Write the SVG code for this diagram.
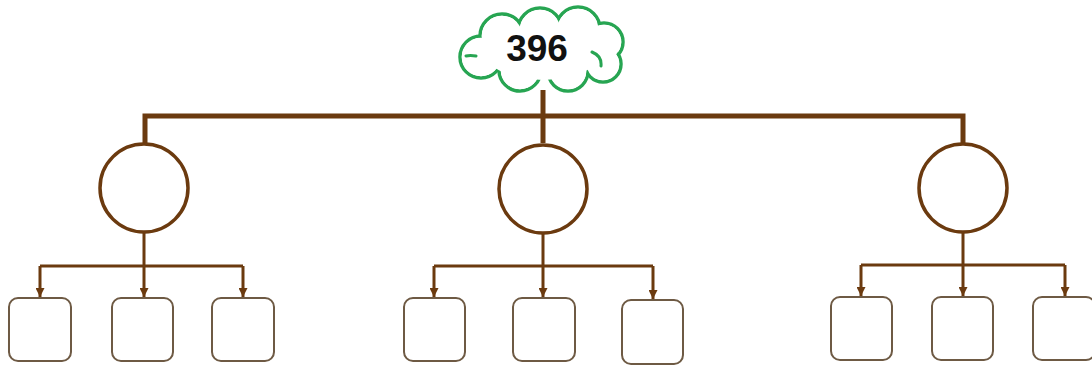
<svg xmlns="http://www.w3.org/2000/svg" width="1092" height="365" viewBox="0 0 1092 365">
<style>
.thick{stroke:#6b3a0f;stroke-width:5;fill:none}
.thin{stroke:#6b3a0f;stroke-width:3;fill:none}
.circ{stroke:#6b3a0f;stroke-width:3.5;fill:#fff}
.box{stroke:#6e5a44;stroke-width:2;fill:#fff}
.cl{stroke:#27a552;stroke-width:3.5;fill:#fff}
.clf{fill:#fff;stroke:none}
.lbl{font-family:"Liberation Sans",Arial,sans-serif;font-weight:bold;font-size:37px;fill:#111}
</style>
<defs>
<marker id="ah" viewBox="0 0 10 10" refX="10" refY="5" markerWidth="3" markerHeight="3" orient="auto" markerUnits="strokeWidth">
<path d="M0,0 L10,5 L0,10 z" fill="#6b3a0f"/>
</marker>
</defs>
<rect width="1092" height="365" fill="#fff"/>
<g id="connectors">
<path class="thick" d="M543,90 V116 M145,143 V116 H963 V143 M543,116 V143"/>
<path class="thin" d="M144,233 V266 M543,234 V266 M963,233 V265"/>
<path class="thin" d="M40,266 H243 M434,266 H653 M861,265 H1065"/>
<path class="thin" marker-end="url(#ah)" d="M40,266 V297"/>
<path class="thin" marker-end="url(#ah)" d="M144,266 V297"/>
<path class="thin" marker-end="url(#ah)" d="M243,266 V297"/>
<path class="thin" marker-end="url(#ah)" d="M434,266 V297"/>
<path class="thin" marker-end="url(#ah)" d="M543,266 V297"/>
<path class="thin" marker-end="url(#ah)" d="M653,266 V299"/>
<path class="thin" marker-end="url(#ah)" d="M861,265 V296"/>
<path class="thin" marker-end="url(#ah)" d="M963,265 V296"/>
<path class="thin" marker-end="url(#ah)" d="M1065,265 V296"/>
</g>
<g id="root">
<circle class="cl" cx="481" cy="57" r="21"/>
<circle class="cl" cx="502" cy="36" r="22"/>
<circle class="cl" cx="540" cy="30" r="22"/>
<circle class="cl" cx="578" cy="29" r="22"/>
<circle class="cl" cx="604" cy="42" r="19"/>
<circle class="cl" cx="603" cy="64" r="18"/>
<circle class="cl" cx="568" cy="71" r="20"/>
<circle class="cl" cx="520" cy="70" r="21"/>
<circle class="clf" cx="481" cy="57" r="19.3"/>
<circle class="clf" cx="502" cy="36" r="20.3"/>
<circle class="clf" cx="540" cy="30" r="20.3"/>
<circle class="clf" cx="578" cy="29" r="20.3"/>
<circle class="clf" cx="604" cy="42" r="17.3"/>
<circle class="clf" cx="603" cy="64" r="16.3"/>
<circle class="clf" cx="568" cy="71" r="18.3"/>
<circle class="clf" cx="520" cy="70" r="19.3"/>
<ellipse class="clf" cx="543" cy="52" rx="58" ry="28"/>
<path d="M592,52 Q602,56 601,66 M466,56 Q470,55 476,56" stroke="#27a552" stroke-width="3" fill="none" stroke-linecap="round"/>
<text class="lbl" x="537" y="61" text-anchor="middle">396</text>
</g>
<g id="c1"><circle class="circ" cx="144" cy="188" r="44"/></g>
<g id="c2"><circle class="circ" cx="543" cy="189" r="44"/></g>
<g id="c3"><circle class="circ" cx="963" cy="188" r="44"/></g>
<g id="b1"><rect class="box" x="9" y="298" width="62" height="63" rx="9"/></g>
<g id="b2"><rect class="box" x="112" y="298" width="61" height="63" rx="9"/></g>
<g id="b3"><rect class="box" x="212" y="298" width="62" height="63" rx="9"/></g>
<g id="b4"><rect class="box" x="404" y="298" width="61" height="63" rx="9"/></g>
<g id="b5"><rect class="box" x="513" y="298" width="62" height="63" rx="9"/></g>
<g id="b6"><rect class="box" x="622" y="300" width="61" height="64" rx="9"/></g>
<g id="b7"><rect class="box" x="831" y="297" width="61" height="63" rx="9"/></g>
<g id="b8"><rect class="box" x="932" y="297" width="61" height="63" rx="9"/></g>
<g id="b9"><rect class="box" x="1033" y="297" width="62" height="63" rx="9"/></g>
</svg>
